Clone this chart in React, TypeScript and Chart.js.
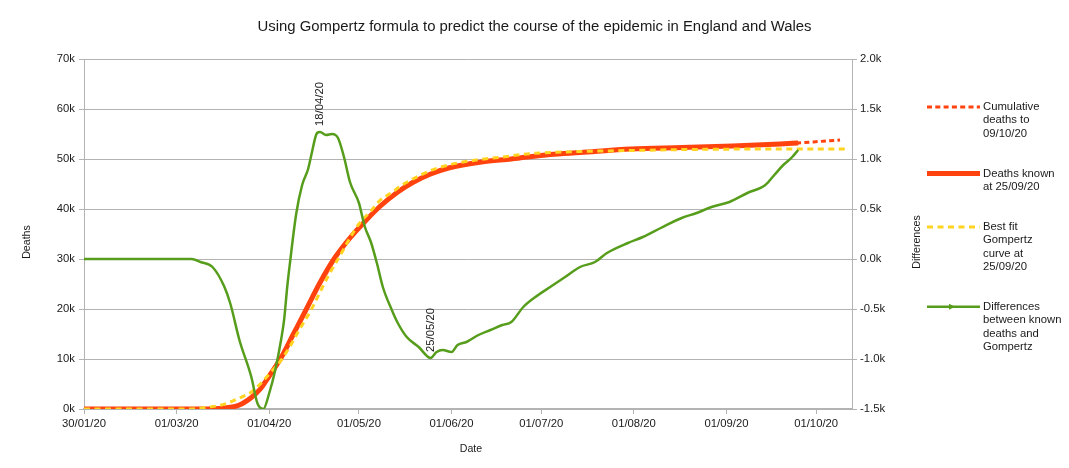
import React, { useEffect, useRef } from "react";
import { Chart, registerables } from "chart.js";

Chart.register(...registerables);

// ---------- DATA ----------
const xTickLabels = ["30/01/20", "01/03/20", "01/04/20", "01/05/20", "01/06/20", "01/07/20", "01/08/20", "01/09/20", "01/10/20"];
const xAxisEnd = "13/10/20";

// Cumulative deaths to 09/10/20 (dashed red)
const cumDates = ["30/01", "09/03", "17/03", "22/03", "26/03", "29/03", "01/04", "05/04", "09/04", "13/04", "18/04", "23/04", "28/04", "03/05", "08/05", "14/05", "19/05", "25/05", "31/05", "11/06", "21/06", "04/07", "14/07", "31/07", "17/08", "03/09", "19/09", "25/09", "02/10", "09/10"];
const cumValues = [0, 0, 200, 800, 2300, 4000, 6600, 10300, 14900, 19500, 25300, 30300, 34200, 37500, 40500, 43400, 45300, 47000, 48200, 49400, 50000, 50900, 51300, 52000, 52300, 52600, 53000, 53200, 53500, 53800];

// Deaths known at 25/09/20 (solid red)
const knownDates = ["30/01", "09/03", "17/03", "22/03", "26/03", "29/03", "01/04", "05/04", "09/04", "13/04", "18/04", "23/04", "28/04", "03/05", "08/05", "14/05", "19/05", "25/05", "31/05", "11/06", "21/06", "04/07", "14/07", "31/07", "17/08", "03/09", "19/09", "25/09"];
const knownValues = [0, 0, 200, 800, 2300, 4000, 6600, 10300, 14900, 19500, 25300, 30300, 34200, 37500, 40500, 43400, 45300, 47000, 48200, 49400, 50000, 50900, 51300, 52000, 52300, 52600, 53000, 53200];

// Best fit Gompertz curve at 25/09/20 (dashed yellow)
const fitDates = ["30/01", "05/03", "12/03", "16/03", "19/03", "22/03", "26/03", "29/03", "01/04", "05/04", "08/04", "11/04", "15/04", "18/04", "21/04", "25/04", "28/04", "01/05", "05/05", "08/05", "12/05", "15/05", "19/05", "25/05", "31/05", "07/06", "18/06", "28/06", "14/07", "31/07", "20/08", "15/09", "12/10"];
const fitValues = [0, 0, 400, 800, 1400, 2200, 3400, 5000, 7000, 9800, 12600, 15800, 19800, 23400, 26900, 31000, 34200, 37000, 39600, 41700, 43300, 44600, 46000, 47700, 48800, 49600, 50400, 51100, 51500, 51700, 51900, 52000, 52000];

// Differences between known deaths and Gompertz (green, right axis)
const diffDates = ["30/01", "06/03", "09/03", "13/03", "17/03", "19/03", "22/03", "26/03", "28/03", "30/03", "01/04", "03/04", "05/04", "06/04", "07/04", "08/04", "10/04", "12/04", "14/04", "15/04", "17/04", "18/04", "20/04", "22/04", "24/04", "26/04", "28/04", "01/05", "03/05", "05/05", "07/05", "09/05", "12/05", "14/05", "17/05", "21/05", "25/05", "27/05", "29/05", "01/06", "03/06", "06/06", "10/06", "14/06", "18/06", "21/06", "25/06", "30/06", "04/07", "09/07", "14/07", "19/07", "23/07", "30/07", "04/08", "10/08", "17/08", "22/08", "27/08", "02/09", "08/09", "14/09", "17/09", "20/09", "23/09", "25/09"];
const diffValues = [0, 0, -30, -80, -280, -450, -810, -1180, -1440, -1500, -1340, -1110, -800, -600, -280, -20, 450, 740, 900, 1030, 1260, 1270, 1240, 1250, 1210, 1020, 770, 560, 320, 170, -40, -280, -510, -640, -780, -880, -990, -930, -910, -930, -860, -830, -760, -710, -660, -630, -480, -360, -280, -180, -80, -30, 60, 160, 220, 310, 410, 460, 520, 570, 660, 740, 840, 940, 1020, 1090];

const annotationLabels = ["18/04/20", "25/05/20"];

const seriesLabels = [
  "Cumulative\ndeaths to\n09/10/20",
  "Deaths known\nat 25/09/20",
  "Best fit\nGompertz\ncurve at\n25/09/20",
  "Differences\nbetween known\ndeaths and\nGompertz",
];

const titleText = "Using Gompertz formula to predict the course of the epidemic in England and Wales";
const leftAxisTitle = "Deaths";
const rightAxisTitle = "Differences";
const xAxisTitle = "Date";

// ---------- HELPERS ----------
const BASE = Date.UTC(2020, 0, 30);
function dayOf(s: string): number {
  const p = s.split("/");
  return Math.round((Date.UTC(2020, Number(p[1]) - 1, Number(p[0])) - BASE) / 86400000);
}
const toPoints = (dates: string[], vals: number[]) => dates.map((d, i) => ({ x: dayOf(d), y: vals[i] }));

const FONT = "'Liberation Sans', Arial, sans-serif";
const TEXT = "#1a1a1a";
const GRID = "#b3b3b3";
const RED = "#ff420e";
const YELLOW = "#ffd320";
const GREEN = "#579d1c";

const tickDays = xTickLabels.map(dayOf);

const styles = [
  { color: RED, width: 3, dash: [5, 3.3] },
  { color: RED, width: 5, dash: [] as number[] },
  { color: YELLOW, width: 3, dash: [6, 4.5] },
  { color: GREEN, width: 2.5, dash: [] as number[], marker: true },
];

const decorPlugin = {
  id: "decor",
  afterDatasetsDraw(chart: any) {
    const ctx = chart.ctx as CanvasRenderingContext2D;
    const xs = chart.scales.x;
    const ys = chart.scales.y1;
    ctx.save();
    ctx.fillStyle = TEXT;
    ctx.font = `11.3px ${FONT}`;
    ctx.textAlign = "left";
    ctx.textBaseline = "middle";
    annotationLabels.forEach((lab) => {
      const d = lab.slice(0, 5);
      const i = diffDates.indexOf(d);
      const px = xs.getPixelForValue(dayOf(d));
      const py = ys.getPixelForValue(diffValues[i]);
      ctx.save();
      ctx.translate(px, py - 6);
      ctx.rotate(-Math.PI / 2);
      ctx.fillText(lab, 0, 0);
      ctx.restore();
    });
    ctx.restore();
  },
  afterDraw(chart: any) {
    const ctx = chart.ctx as CanvasRenderingContext2D;
    const area = chart.chartArea;
    ctx.save();
    ctx.fillStyle = TEXT;
    // Title
    ctx.font = `14.9px ${FONT}`;
    ctx.textAlign = "center";
    ctx.textBaseline = "middle";
    ctx.fillText(titleText, 534.5, 27);
    // Axis titles
    ctx.font = `10.6px ${FONT}`;
    ctx.fillText(xAxisTitle, (area.left + area.right) / 2 + 3, 449);
    ctx.save();
    ctx.translate(27, 242);
    ctx.rotate(-Math.PI / 2);
    ctx.fillText(leftAxisTitle, 0, 0);
    ctx.restore();
    ctx.save();
    ctx.translate(917, 242);
    ctx.rotate(-Math.PI / 2);
    ctx.fillText(rightAxisTitle, 0, 0);
    ctx.restore();
    // Legend
    ctx.font = `11.3px ${FONT}`;
    ctx.textAlign = "left";
    let y = 107;
    const lh = 13.3;
    seriesLabels.forEach((label, k) => {
      const st = styles[k];
      ctx.save();
      ctx.strokeStyle = st.color;
      ctx.lineWidth = st.width;
      ctx.setLineDash(st.dash);
      ctx.beginPath();
      ctx.moveTo(927, y);
      ctx.lineTo(980, y);
      ctx.stroke();
      if ((st as any).marker) {
        ctx.fillStyle = st.color;
        ctx.beginPath();
        ctx.moveTo(949, y - 3);
        ctx.lineTo(955, y);
        ctx.lineTo(949, y + 3);
        ctx.closePath();
        ctx.fill();
      }
      ctx.restore();
      const lines = label.split("\n");
      lines.forEach((t, i) => ctx.fillText(t, 983, y + i * lh));
      y += lines.length * lh + 26.7;
    });
    ctx.restore();
  },
};

export default function App() {
  const ref = useRef<HTMLCanvasElement>(null);
  useEffect(() => {
    const canvas = ref.current!;
    const lineCommon = {
      pointRadius: 0,
      pointHoverRadius: 0,
      cubicInterpolationMode: "monotone" as const,
      borderJoinStyle: "round" as const,
      fill: false,
    };
    const chart = new Chart(canvas, {
      type: "line",
      data: {
        datasets: [
          { ...lineCommon, label: seriesLabels[0], data: toPoints(cumDates, cumValues), yAxisID: "y", borderColor: RED, backgroundColor: RED, borderWidth: 3, borderDash: [5, 3.3], order: 3 },
          { ...lineCommon, label: seriesLabels[1], data: toPoints(knownDates, knownValues), yAxisID: "y", borderColor: RED, backgroundColor: RED, borderWidth: 5, order: 2 },
          { ...lineCommon, label: seriesLabels[2], data: toPoints(fitDates, fitValues), yAxisID: "y", borderColor: YELLOW, backgroundColor: YELLOW, borderWidth: 3, borderDash: [6, 4.5], order: 1 },
          { ...lineCommon, label: seriesLabels[3], data: toPoints(diffDates, diffValues), yAxisID: "y1", borderColor: GREEN, backgroundColor: GREEN, borderWidth: 2.5, order: 0 },
        ],
      },
      options: {
        responsive: false,
        animation: false,
        devicePixelRatio: 1,
        events: [],
        layout: { padding: { top: 59, left: 0, right: 0, bottom: 0 } },
        plugins: { legend: { display: false }, tooltip: { enabled: false }, title: { display: false } },
        scales: {
          x: {
            type: "linear",
            min: 0,
            max: dayOf(xAxisEnd),
            afterBuildTicks: (s: any) => {
              s.ticks = tickDays.map((v) => ({ value: v }));
            },
            afterFit: (s: any) => {
              s.height = 59;
            },
            ticks: {
              autoSkip: false,
              maxRotation: 0,
              minRotation: 0,
              padding: 3,
              color: TEXT,
              font: { family: FONT, size: 11.3 },
              callback: (v: any) => {
                const i = tickDays.indexOf(Number(v));
                return i >= 0 ? xTickLabels[i] : "";
              },
            },
            grid: { drawOnChartArea: false, color: GRID, tickLength: 5 },
            border: { color: GRID, width: 2 },
          },
          y: {
            position: "left",
            min: 0,
            max: 70000,
            afterFit: (s: any) => {
              s.width = 84;
            },
            ticks: {
              stepSize: 10000,
              padding: 4,
              color: TEXT,
              font: { family: FONT, size: 11.3 },
              callback: (v: any) => Number(v) / 1000 + "k",
            },
            grid: { color: GRID, tickLength: 5 },
            border: { color: GRID },
          },
          y1: {
            position: "right",
            min: -1500,
            max: 2000,
            afterFit: (s: any) => {
              s.width = 1069 - 852;
            },
            ticks: {
              stepSize: 500,
              padding: 3,
              color: TEXT,
              font: { family: FONT, size: 11.3 },
              callback: (v: any) => (Number(v) / 1000).toFixed(1) + "k",
            },
            grid: { drawOnChartArea: false, color: GRID, tickLength: 5 },
            border: { color: GRID },
          },
        },
      } as any,
      plugins: [decorPlugin],
    });
    return () => chart.destroy();
  }, []);
  return (
    <div style={{ position: "fixed", left: 0, top: 0, width: 1069, height: 468, background: "#fff" }}>
      <canvas ref={ref} width={1069} height={468} style={{ display: "block", width: 1069, height: 468 }} />
    </div>
  );
}
